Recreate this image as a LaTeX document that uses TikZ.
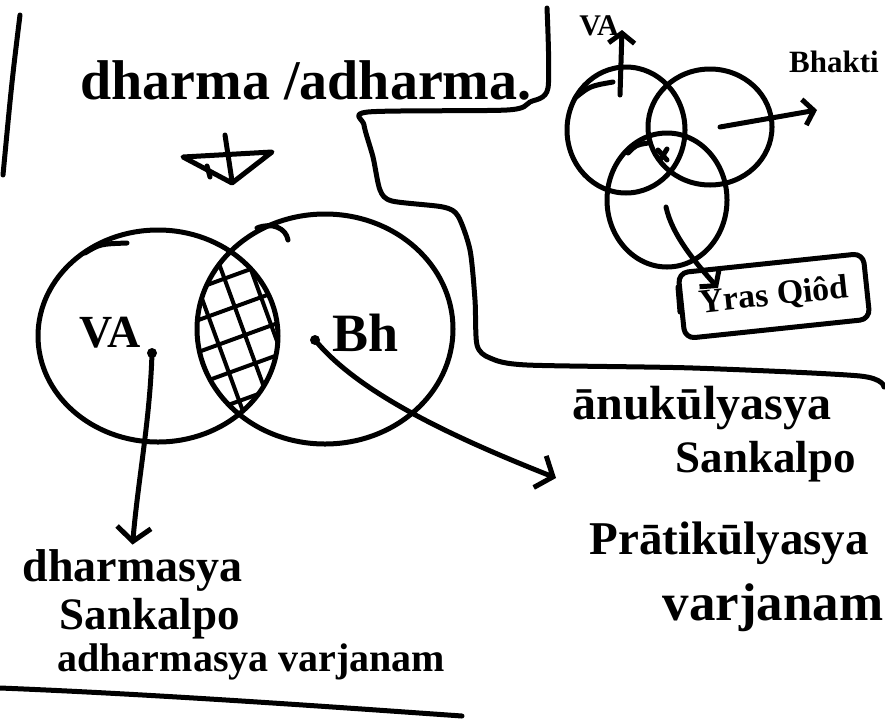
\documentclass[tikz,border=0pt]{standalone}
\usepackage{fontspec}
\setmainfont{Liberation Serif}
\usepackage{xcolor}
\usepackage{tikz}
\usetikzlibrary{arrows.meta,calc,shapes.geometric}
\definecolor{ink}{HTML}{000000}

\begin{document}
\begin{tikzpicture}[x=1pt,y=-1pt,line width=5pt,line cap=round,line join=round,ink,
    hand/.style={font={\fontsize{#1}{#1}\selectfont\bfseries},inner sep=0pt},
    hand/.default=46,
    venn/.style={draw,ellipse,inner sep=0pt},
    pen/.style={-{Straight Barb[length=14pt,width=34pt]}},
    minipen/.style={-{Straight Barb[length=10pt,width=26pt]}}]
    \useasboundingbox (0,0) rectangle (885,718);
    \fill[white] (0,0) rectangle (885,718);
    % frame strokes
    \draw (20,15) .. controls (12,80) .. (3,175);
    \draw (0,688) .. controls (150,694) and (320,706) .. (462,716);
    \draw plot[smooth,tension=0.45] coordinates {(547,8) (548,88) (530,102) (507,110) (368,112) (364,125) (373,157) (380,190) (392,201) (443,207) (458,216) (470,250) (475,300) (477,345) (490,358) (527,365) (693,368) (860,376) (884,387)};
    % heading
    \node[hand=56] (title) at (306,80) {dharma /adharma.};
    \draw (183,157) -- (272,152) -- (232,183) -- cycle;
    \draw (225,135) -- (232,181);
    \draw (207,166) -- (210,177);
    % big venn
    \node[venn,minimum width=240pt,minimum height=212pt] (va) at (158,336) {};
    \node[venn,minimum width=256pt,minimum height=230pt] (bh) at (325,329) {};
    \begin{scope}
      \clip (158,336) ellipse [x radius=120pt, y radius=106pt];
      \clip (325,329) ellipse [x radius=128pt, y radius=115pt];
      \begin{scope}[shift={(245,335)},rotate=20,line width=4pt]
        \foreach \k in {-5,...,5} {
          \draw (-150,\k*30) -- (150,\k*30);
          \draw (\k*28,-150) -- (\k*28,150);
        }
      \end{scope}
    \end{scope}
    \draw (85,253) .. controls (100,244) .. (127,243);
    \draw (257,228) .. controls (272,222) and (286,228) .. (288,240);
    \node[hand=46] (valbl) at (110,333) {VA};
    \node[hand=54] (bhlbl) at (366,333) {Bh};
    \coordinate (vadot) at (152,353);
    \coordinate (bhdot) at (315,340);
    \fill (vadot) circle [radius=5pt];
    \fill (bhdot) circle [radius=5pt];
    % left text
    \node[hand,anchor=west] (lhs1) at (20,570) {dharmasya};
    \node[hand=45,anchor=west] (lhs2) at (57,619) {Sankalpo};
    \node[hand=40,anchor=west] (lhs3) at (55,662) {adharmasya varjanam};
    % right text
    \node[hand=48,anchor=west] (rhs1) at (570,408) {ānukūlyasya};
    \node[hand=45,anchor=west] (rhs2) at (673,462) {Sankalpo};
    \node[hand=47,anchor=west] (rhs3) at (587,543) {Prātikūlyasya};
    \node[hand=53,anchor=west] (rhs4) at (660,608) {varjanam};
    \coordinate (bhend) at (556,478);
    \draw[pen,shorten >=2pt] (vadot) .. controls (150,420) and (138,480) .. (lhs1.north);
    \draw[pen] (bhdot) .. controls (360,395) and (460,440) .. (bhend);
    % small venn
    \node[venn,minimum width=118pt,minimum height=126pt] (tva) at (626,130) {};
    \node[venn,minimum width=124pt,minimum height=116pt] (tbh) at (710,127) {};
    \node[venn,minimum width=120pt,minimum height=134pt] (tk) at (667,200) {};
    \draw (575,98) .. controls (590,86) .. (613,82);
    \draw (628,153) .. controls (636,145) .. (648,143);
    \draw (658,150) -- (667,160);
    \draw (667,149) -- (660,160);
    \node[hand=30] (tvalbl) at (599,26) {VA};
    \node[hand=31] (tbhlbl) at (834,62) {Bhakti};
    \node[hand=34,draw,rounded corners=10pt,rotate=6,minimum width=186pt,minimum height=66pt] (box) at (774,296) {Yras Qiôd};
    \draw (678,287) -- (680,312);
    \coordinate (tvadot) at (620,95);
    \coordinate (tvatip) at (622,30);
    \coordinate (tbhdot) at (720,127);
    \coordinate (tbhtip) at (817,110);
    \coordinate (tkdot) at (666,207);
    \coordinate (tktip) at (718,288);
    \draw[minipen] (tvadot) -- (tvatip);
    \draw[minipen] (tbhdot) -- (tbhtip);
    \draw[minipen] (tkdot) .. controls (672,235) and (695,262) .. (tktip);
\end{tikzpicture}
\end{document}
